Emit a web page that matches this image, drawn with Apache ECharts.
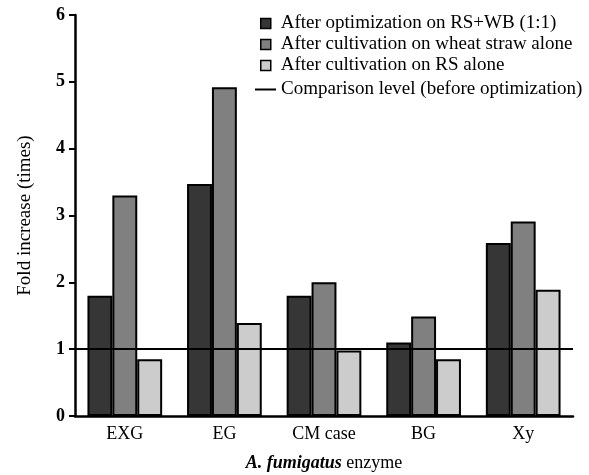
<!DOCTYPE html>
<html>
<head>
<meta charset="utf-8">
<script src="https://cdn.jsdelivr.net/npm/echarts@6/dist/echarts.min.js"></script>
<style>
  html, body { margin: 0; padding: 0; background: #fff; }
  #chart { width: 589px; height: 475px; }
</style>
</head>
<body>
<div id="chart"></div>
<script>
// enzymes on the x axis
const enzymes = ['EXG', 'EG', 'CM case', 'BG', 'Xy'];
// fold increase
const optimized = [1.8, 3.47, 1.8, 1.1, 2.59];
const wheatStraw = [3.3, 4.92, 2.0, 1.49, 2.91];
const rsAlone = [0.85, 1.39, 0.98, 0.85, 1.89];
const comparisonLevel = 1;
const yTicks = [0, 1, 2, 3, 4, 5, 6];

const names = [
  'After optimization on RS+WB (1:1)',
  'After cultivation on wheat straw alone',
  'After cultivation on RS alone',
  'Comparison level (before optimization)'
];

const font = 'Liberation Serif, Times New Roman, serif';

function barSeries(name, data, color) {
  return {
    name: name,
    type: 'bar',
    data: data,
    barGap: '0%',
    barCategoryGap: '25%',
    itemStyle: { color: color, borderColor: '#000', borderWidth: 2 }
  };
}

const legendText = { fontFamily: font, fontSize: 19, color: '#000' };

const chart = echarts.init(document.getElementById('chart'));
chart.setOption({
  animation: false,
  textStyle: { fontFamily: font, color: '#000' },
  legend: [{
    orient: 'vertical',
    left: 255,
    top: 9,
    itemGap: 2,
    itemWidth: 10,
    itemHeight: 10,
    textStyle: Object.assign({ padding: [0, 0, 0, 5] }, legendText),
    data: names.slice(0, 3).map(n => ({
      name: n, icon: 'rect', itemStyle: { borderColor: '#000', borderWidth: 1.5 }
    }))
  }, {
    orient: 'vertical',
    left: 250,
    top: 75,
    itemWidth: 21,
    itemHeight: 10,
    textStyle: Object.assign({ padding: [0, 0, 0, 0] }, legendText),
    data: [{ name: names[3], icon: 'path://M0,9L21,9L21,11L0,11Z', itemStyle: { color: '#000' } }]
  }],
  grid: { left: 75, right: 16, top: 15, bottom: 59, outerBoundsMode: 'none' },
  xAxis: {
    type: 'category',
    data: enzymes,
    name: '{i|A. fumigatus} enzyme',
    nameLocation: 'middle',
    nameGap: 38,
    nameTextStyle: {
      fontFamily: font, fontSize: 18, color: '#000',
      rich: { i: { fontFamily: font, fontSize: 18, fontStyle: 'italic', fontWeight: 'bold', color: '#000' } }
    },
    axisLine: { lineStyle: { color: '#000', width: 2.5 } },
    axisTick: { alignWithLabel: true, length: 6, lineStyle: { color: '#000', width: 2 } },
    axisLabel: { fontFamily: font, fontSize: 18, color: '#000', margin: 9 }
  },
  yAxis: {
    type: 'value',
    min: yTicks[0],
    max: yTicks[yTicks.length - 1],
    interval: 1,
    name: 'Fold increase (times)',
    nameLocation: 'middle',
    nameGap: 40,
    nameTextStyle: { fontFamily: font, fontSize: 19, color: '#000' },
    axisLine: { show: true, lineStyle: { color: '#000', width: 2.5 } },
    axisTick: { show: true, length: 6, lineStyle: { color: '#000', width: 2 } },
    axisLabel: { fontFamily: font, fontSize: 18, fontWeight: 'bold', color: '#000', margin: 10 },
    splitLine: { show: false }
  },
  series: [
    barSeries(names[0], optimized, '#363636'),
    barSeries(names[1], wheatStraw, '#808080'),
    barSeries(names[2], rsAlone, '#cccccc'),
    {
      name: names[3],
      type: 'line',
      symbol: 'none',
      data: [],
      itemStyle: { color: '#000' },
      lineStyle: { color: '#000', width: 2 },
      z: 5,
      markLine: {
        silent: true,
        symbol: 'none',
        label: { show: false },
        lineStyle: { color: '#000', width: 2, type: 'solid' },
        data: [{ yAxis: comparisonLevel }]
      }
    }
  ]
});
</script>
</body>
</html>
